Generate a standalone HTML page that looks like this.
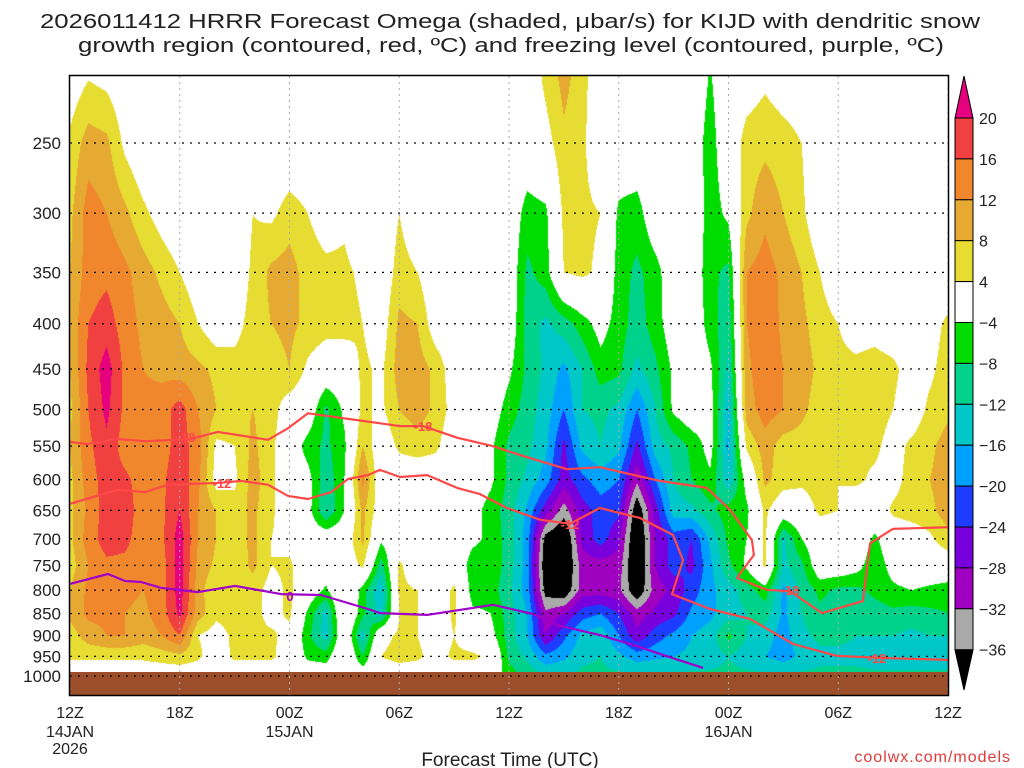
<!DOCTYPE html>
<html><head><meta charset="utf-8"><style>
html,body{margin:0;padding:0;background:#fff;width:1024px;height:768px;overflow:hidden}
#wrap{position:relative;width:1024px;height:768px}
#field{position:absolute;left:70px;top:76px}
#ov{position:absolute;left:0;top:0}
text{font-family:"Liberation Sans",sans-serif}
</style></head><body>
<div id="wrap">
<canvas id="field" width="878" height="597"></canvas>
<svg id="ov" width="1024" height="768"></svg>
</div>
<script>
const levels=[200,250,300,350,400,450,500,550,600,650,700,750,800,850,900,950,1000];
const omega200=[0,2,1,0,0,0,0,0,0,0, 0,0,0,0,0,0,0,0,0,0, 0,0,0,0,0,0,6,10,6,0, 0,0,0,0,0,-4,0,0,2,0, 0,0,0,0,0,0,0,0,0];
const omega250=[5,10,9,3,0,0,0,0,0,0, 0,0,0,0,0,0,0,0,0,0, 0,0,0,0,0,0,2,7,5,0, 0,0,0,0,-1,-6,0,6,7,6, 4,0,0,0,0,0,0,0,0];
const omega300=[7,14,12,9,5,2,0,0,0,0, 4,3,6,4,2,3,0,0,4,0, 0,0,0,0,0,-6,-5,5,5,4, -5,-6,0,0,0,-6,-3,7,11,8, 5,0,0,0,0,0,0,0,0];
const omega350=[8,14,15,13,10,7,4,1,0,0, 5,9,10,6,5,5,3,0,6,4, 0,3,4,0,0,-9,-6,4,5,3, -6,-9,-6,0,0,-7,-9,12,14,11, 8,4,0,0,0,0,0,0,0];
const omega400=[9,16,18,14,11,10,8,4,1,2, 6,8,9,7,6,6,4,1,9,8, 1,0,0,0,0,-10,-13,-10,-6,-2, -6,-10,-6,-1,0,-6,-11,12,15,11, 9,6,4,2,2,1,0,2,5];
const omega450=[8,17,22,15,12,11,10,9,7,6, 7,6,8,3,0,0,5,3,10,10, 7,1,0,0,-3,-9,-13,-17,-12,-6, -7,-13,-9,-3,0,-3,-13,11,15,12, 10,7,5,5,6,5,2,3,6];
const omega500=[7,16,21,15,13,14,18,12,8,7, 8,6,1,0,-9,-3,5,3,8,10, 7,2,0,-1,-6,-10,-14,-20,-12,-11, -13,-20,-12,-3,0,-2,-16,10,14,12, 9,6,5,6,6,4,1,5,7];
const omega550=[8,15,19,14,13,14,18,14,3,4, 9,5,0,-6,-9,-5,8,0,5,6, 5,0,-1,-3,-9,-11,-15,-25,-15,-12, -15,-25,-14,-11,-7,-2,-17,5,10,6, 6,5,5,5,5,2,5,7,10];
const omega600=[7,14,18,17,14,15,19,13,2,3, 10,5,0,-2,-11,-4,13,0,0,0, 0,0,0,-3,-9,-13,-18,-26,-21,-18, -20,-31,-20,-12,-8,-5,-15,-2,9,6, 5,6,4,5,3,2,6,8,10];
const omega650=[7,13,18,18,14,15,20,12,8,6, 9,5,0,-2,-12,-4,9,1,0,0, 0,0,-2,-6,-10,-17,-26,-34,-26,-22, -23,-40,-26,-14,-13,-9,-6,-5,5,0, 1,5,4,0,0,5,6,7,10];
const omega700=[7,14,18,17,14,15,22,12,8,6, 9,4,2,0,0,0,9,-3,0,0, 0,0,-3,-5,-10,-18,-38,-42,-27,-22, -27,-42,-28,-22,-24,-15,-7,-4,5,-13, -4,0,0,0,-5,0,1,3,7];
const omega750=[6,12,15,15,14,14,22,11,7,5, 9,4,5,0,0,0,5,-10,5,0, 0,0,-6,-5,-10,-18,-40,-42,-30,-30, -30,-42,-28,-22,-25,-17,-9,-3,5,-13, -9,0,0,-2,-7,-2,0,0,0];
const omega800=[8,13,14,13,12,14,22,10,4,6, 6,2,5,0,-5,4,-6,-16,5,4, 0,5,-6,-6,-11,-18,-38,-40,-30,-30, -31,-40,-30,-27,-22,-17,-14,-10,-6,-17, -11,-7,-9,-9,-7,-5,-4,-5,-6];
const omega850=[9,13,13,12,11,14,21,10,5,6, 6,2,5,-5,-14,4,-7,-14,4,4, 0,5,-3,-4,-10,-16,-31,-28,-22,-20, -24,-30,-27,-25,-19,-17,-14,-12,-10,-17, -12,-9,-10,-10,-10,-9,-10,-9,-8];
const omega900=[6,10,12,12,10,12,16,4,2,5, 5,5,2,-7,-14,2,-14,2,5,4, 1,4,0,-2,-10,-16,-28,-21,-15,-13, -20,-27,-22,-19,-16,-14,-7,-12,-14,-18, -13,-11,-11,-12,-12,-12,-13,-12,-12];
const omega950=[5,5,5,5,5,6,7,5,1,5, 5,5,1,-5,-6,3,-8,4,6,5, 2,5,5,3,-9,-13,-19,-17,-13,-12, -15,-18,-17,-16,-15,-14,-12,-14,-16,-18, -15,-13,-13,-13,-14,-14,-14,-14,-14];
const omega1000=[0,0,0,0,0,0,0,0,0,0, 0,0,0,0,0,0,0,0,0,0, 0,0,0,0,-6,-9,-12,-12,-11,-11, -11,-11,-11,-11,-11,-11,-11,-11,-11,-11, -11,-11,-11,-11,-11,-11,-11,-11,-11];
const omegaRows=[omega200,omega250,omega300,omega350,omega400,omega450,omega500,omega550,omega600,omega650,omega700,omega750,omega800,omega850,omega900,omega950,omega1000];

const iso18Hours=[0,0.98,2.62,4.10,6.56,8.09,10.82,11.92,13.01,16.29,18.04,19.30,21.16,23.13,24.60,27.17,28.97,32.25,34.82,36.08,37.28,37.39,36.46,38.10,39.36,41.11,43.35,43.74,44.99,48];
const iso18Press=[544,547,540,543,540,530,541,525,505,516,522,522,538,550,563,584,581,602,613,649,702,730,775,799,802,849,823,708,682,679];
const iso12Hours=[0,2.62,4.10,5.36,8.26,9.35,10.82,11.92,13.01,14.27,15.20,16.29,16.95,18.04,19.52,21.16,22.41,23.89,25.69,27.33,28.97,31.16,32.97,33.51,32.91,34.99,37.18,39.53,41.93,44.28,48];
const iso12Press=[639,616,620,608,605,602,608,626,631,620,599,593,585,596,593,613,623,646,666,673,646,663,693,740,808,840,862,920,949,954,959];
const frzHours=[0,2.08,3.01,3.88,4.97,6.99,9.02,11.54,13.72,16.29,16.95,19.52,23.13,25.31,26.62,28.97,30.99,32.25,34.61];
const frzPress=[787,767,781,783,795,804,791,808,810,840,849,853,831,851,876,899,925,944,979];

const yTicks=[250,300,350,400,450,500,550,600,650,700,750,800,850,900,950,1000];
const xTickHours=[0,6,12,18,24,30,36,42,48];
const xTickLabels=["12Z","18Z","00Z","06Z","12Z","18Z","00Z","06Z","12Z"];
const cbLevels=[20,16,12,8,4,-4,-8,-12,-16,-20,-24,-28,-32,-36];
const cbColors=["#f04040","#f0872d","#e6aa32","#e6dc32","#ffffff","#00dc00","#00d28c","#00c8c8","#00a0ff","#1e3cff","#7800dc","#a000c0","#aaaaaa"];

const X0=70,X1=948,HOURS=48;
function xOf(h){return X0+h*(X1-X0)/HOURS;}
function yOf(p){return 143+384.5*Math.log(p/250);}
function pOf(y){return 250*Math.exp((y-143)/384.5);}
function colorOf(v){
  if(v>=20)return[230,0,126];if(v>=16)return[240,64,64];if(v>=12)return[240,135,45];
  if(v>=8)return[230,170,50];if(v>=4)return[230,220,50];if(v>-4)return[255,255,255];
  if(v>-8)return[0,220,0];if(v>-12)return[0,210,140];if(v>-16)return[0,200,200];
  if(v>-20)return[0,160,255];if(v>-24)return[30,60,255];if(v>-28)return[120,0,220];
  if(v>-32)return[160,0,192];if(v>-36)return[170,170,170];return[0,0,0];
}
(function(){
  const cv=document.getElementById('field');const ctx=cv.getContext('2d');
  const W=cv.width,H=cv.height;const img=ctx.createImageData(W,H);const d=img.data;
  const nL=levels.length,nH=omegaRows[0].length;
  for(let py=0;py<H;py++){
    const p=pOf(76+py+0.5);
    let f=(p-levels[0])/(levels[1]-levels[0]);f=Math.max(0,Math.min(nL-1.0001,f));
    const i0=Math.floor(f),t=f-i0;const r0=omegaRows[i0],r1=omegaRows[i0+1];
    for(let px=0;px<W;px++){
      let h=(px+0.5)*HOURS/(X1-X0);h=Math.max(0,Math.min(nH-1.0001,h));
      const j0=Math.floor(h),s=h-j0;
      const v=(1-t)*((1-s)*r0[j0]+s*r0[j0+1])+t*((1-s)*r1[j0]+s*r1[j0+1]);
      const c=colorOf(v);const k=(py*W+px)*4;
      d[k]=c[0];d[k+1]=c[1];d[k+2]=c[2];d[k+3]=255;
    }
  }
  ctx.putImageData(img,0,0);
})();
const NS='http://www.w3.org/2000/svg';
const svg=document.getElementById('ov');
function mk(tag,attrs,parent){const e=document.createElementNS(NS,tag);for(const k in attrs)e.setAttribute(k,attrs[k]);(parent||svg).appendChild(e);return e;}
function txt(s,attrs,parent){const e=mk('text',attrs,parent);e.textContent=s;return e;}

const ground=mk('rect',{x:70,y:672,width:878,height:23,fill:'#9c4f2a'});



const grid=mk('g',{});


yTicks.forEach(p=>{const y=yOf(p);mk('line',{x1:70,x2:948,y1:y,y2:y,stroke:'#000','stroke-width':1.2,'stroke-dasharray':'2 6'},grid);});
xTickHours.forEach(h=>{const x=xOf(h);mk('line',{x1:x,x2:x,y1:76,y2:695,stroke:'#aaa','stroke-width':1,'stroke-dasharray':'2 4'},grid);});

function drawLine(hs,ps,color,name){
  const pts=hs.map((h,i)=>xOf(h).toFixed(1)+','+yOf(ps[i]).toFixed(1)).join(' ');
  const l=mk('polyline',{points:pts,fill:'none',stroke:color,'stroke-width':2.2,'stroke-linejoin':'round'});
  
  
}
drawLine(iso18Hours,iso18Press,'#ff4848','isotherm-minus18');
drawLine(iso12Hours,iso12Press,'#ff4848','isotherm-minus12');
drawLine(frzHours,frzPress,'#a000c8','freezing-level');
const lab=mk('g',{'font-size':13,'font-weight':'bold','text-anchor':'middle'});


[["-18",186,442,'#ff4848'],["-12",222,488,'#ff4848'],["-18",423,431,'#ff4848'],["-12",570,529,'#ff4848'],["-18",790,595,'#ff4848'],["-12",877,663,'#ff4848'],["0",290,601,'#a000c8']].forEach(a=>{txt(a[0],{x:a[1],y:a[2],fill:a[3]},lab);});

const fr=mk('rect',{x:69.5,y:75.5,width:879,height:620,fill:'none',stroke:'#000','stroke-width':1.5});



const yax=mk('g',{'font-size':17,'text-anchor':'end',fill:'#222'});


yTicks.forEach(p=>{txt(String(p),{x:61,y:yOf(p)+6},yax);});

const xax=mk('g',{'font-size':16,'text-anchor':'middle',fill:'#222'});


xTickHours.forEach((h,i)=>{txt(xTickLabels[i],{x:xOf(h),y:718},xax);});
txt("14JAN",{x:70,y:737},xax);txt("15JAN",{x:xOf(12),y:737},xax);txt("16JAN",{x:xOf(36),y:737},xax);
txt("2026",{x:70,y:754},xax);
const xt=txt("Forecast Time (UTC)",{x:510,y:766,'font-size':19,'text-anchor':'middle',fill:'#222'});


const cr=txt("coolwx.com/models",{x:1011,y:762,'font-size':16,'text-anchor':'end',fill:'#e03a3a','letter-spacing':'1'});



const t1=txt("2026011412 HRRR Forecast Omega (shaded, \u03bcbar/s) for KIJD with dendritic snow",{x:40,y:28,'font-size':20,fill:'#222',textLength:940,lengthAdjust:'spacingAndGlyphs'});


const t2=txt("growth region (contoured, red, \u00baC) and freezing level (contoured, purple, \u00baC)",{x:78,y:52,'font-size':20,fill:'#222',textLength:866,lengthAdjust:'spacingAndGlyphs'});



const cb=mk('g',{});


mk('polygon',{points:'955,118 973,118 964,76',fill:'#e6007e',stroke:'#000','stroke-width':1},cb);
for(let i=0;i<cbColors.length;i++){
  const y0=118+i*40.9;
  mk('rect',{x:955,y:y0,width:18,height:40.9,fill:cbColors[i],stroke:'#000','stroke-width':1},cb);
}
mk('polygon',{points:'955,650 973,650 964,690',fill:'#000',stroke:'#000','stroke-width':1},cb);
cbLevels.forEach((v,i)=>{txt(v<0?'\u2212'+Math.abs(v):String(v),{x:979,y:118+i*40.9+6,'font-size':16,fill:'#222'},cb);});
</script>
</body></html>
